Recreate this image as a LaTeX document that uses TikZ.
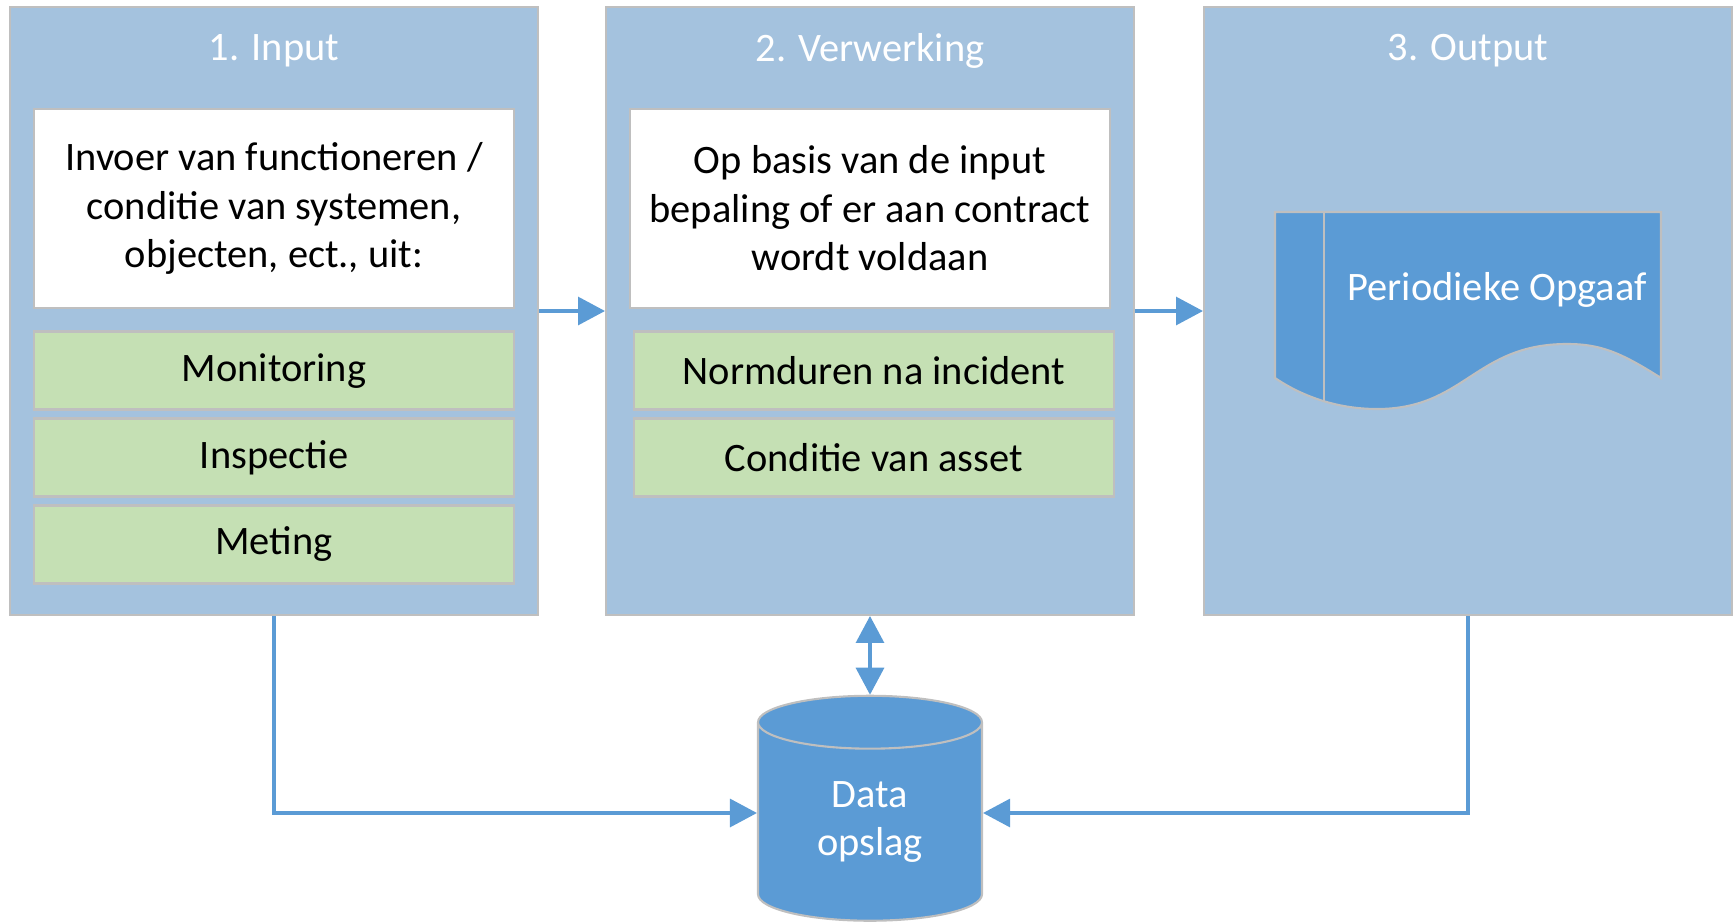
\documentclass[tikz,border=0pt]{standalone}
\usepackage{fontspec}
\setmainfont{Carlito}
\usepackage{tikz}
\usetikzlibrary{arrows.meta, positioning, shapes.geometric}

\definecolor{panelblue}{HTML}{A4C2DE}
\definecolor{accentblue}{HTML}{5B9BD5}
\definecolor{boxgreen}{HTML}{C5E0B4}
\definecolor{edgegray}{HTML}{BFBFBF}

\begin{document}
\begin{tikzpicture}[x=0.02cm, y=-0.02cm, >={Triangle[length=0.54cm,width=0.56cm]},
    every node/.style={font=\fontsize{23}{27.6}\selectfont},
    panel/.style={rectangle, draw=edgegray, line width=1.2pt, fill=panelblue,
                  minimum width=10.56cm, minimum height=12.16cm, inner sep=0pt},
    paneltitle/.style={text=white},
    infobox/.style={rectangle, draw=edgegray, line width=1.6pt, fill=white, align=center,
                    minimum width=9.6cm, minimum height=3.98cm, inner sep=0pt},
    itembox/.style={rectangle, draw=edgegray, line width=1.6pt, fill=boxgreen,
                    minimum width=9.6cm, minimum height=1.56cm, inner sep=0pt},
    store/.style={cylinder, shape border rotate=90, aspect=0.5, draw=edgegray, line width=1.2pt,
                  fill=accentblue, text=white, align=center,
                  minimum width=4.48cm, minimum height=4.5cm, inner sep=0pt},
    link/.style={draw=accentblue, line width=1.8pt}]

  \useasboundingbox (0,0) rectangle (1734,923);

  % panels
  \node[panel] (in) at (274,311) {};
  \node[panel, right=1.32cm of in] (verw) {};
  \node[panel, right=1.36cm of verw] (out) {};

  \node[paneltitle] (inT) at ([yshift=-0.9cm]in.north) {1. Input};
  \node[paneltitle] (verwT) at ([yshift=-0.9cm]verw.north) {2. Verwerking};
  \node[paneltitle] (outT) at ([yshift=-0.9cm]out.north) {3. Output};

  % input
  \node[infobox] (inTxt) at ([yshift=-4.05cm]in.north)
    {Invoer van functioneren /\\conditie van systemen,\\objecten, ect., uit:};
  \node[itembox, below=0.42cm of inTxt] (mon) {Monitoring};
  \node[itembox, below=0.12cm of mon] (insp) {Inspectie};
  \node[itembox, below=0.12cm of insp] (met) {Meting};

  % verwerking
  \node[infobox] (verwTxt) at ([yshift=-4.05cm]verw.north)
    {Op basis van de input\\bepaling of er aan contract\\wordt voldaan};
  \node[itembox, below=0.42cm of verwTxt, xshift=0.08cm] (norm) {Normduren na incident};
  \node[itembox, below=0.12cm of norm] (cond) {Conditie van asset};

  % output document
  \filldraw[fill=accentblue, draw=edgegray, line width=1.2pt]
    (1275,212) -- (1661,212) -- (1661,378)
    .. controls (1620,352) and (1600,344) .. (1567,344)
    .. controls (1475,344) and (1465,409) .. (1377,409)
    .. controls (1335,409) and (1300,395) .. (1275,378) -- cycle;
  \draw[edgegray, line width=1.2pt] (1324,212) -- (1324,402);
  \node[text=white] (doc) at (1497,290) {Periodieke Opgaaf};

  % data
  \node[store] (db) at (870,822) {Data\\opslag};

  \draw[link, ->] (in) -- (verw);
  \draw[link, ->] (verw) -- (out);
  \draw[link, <->] (verw.south) -- (verw.south |- db.top);
  \draw[link, ->] (in.south) |- ([yshift=0.18cm]db.west);
  \draw[link, ->] (out.south) |- ([yshift=0.18cm]db.east);

\end{tikzpicture}
\end{document}
